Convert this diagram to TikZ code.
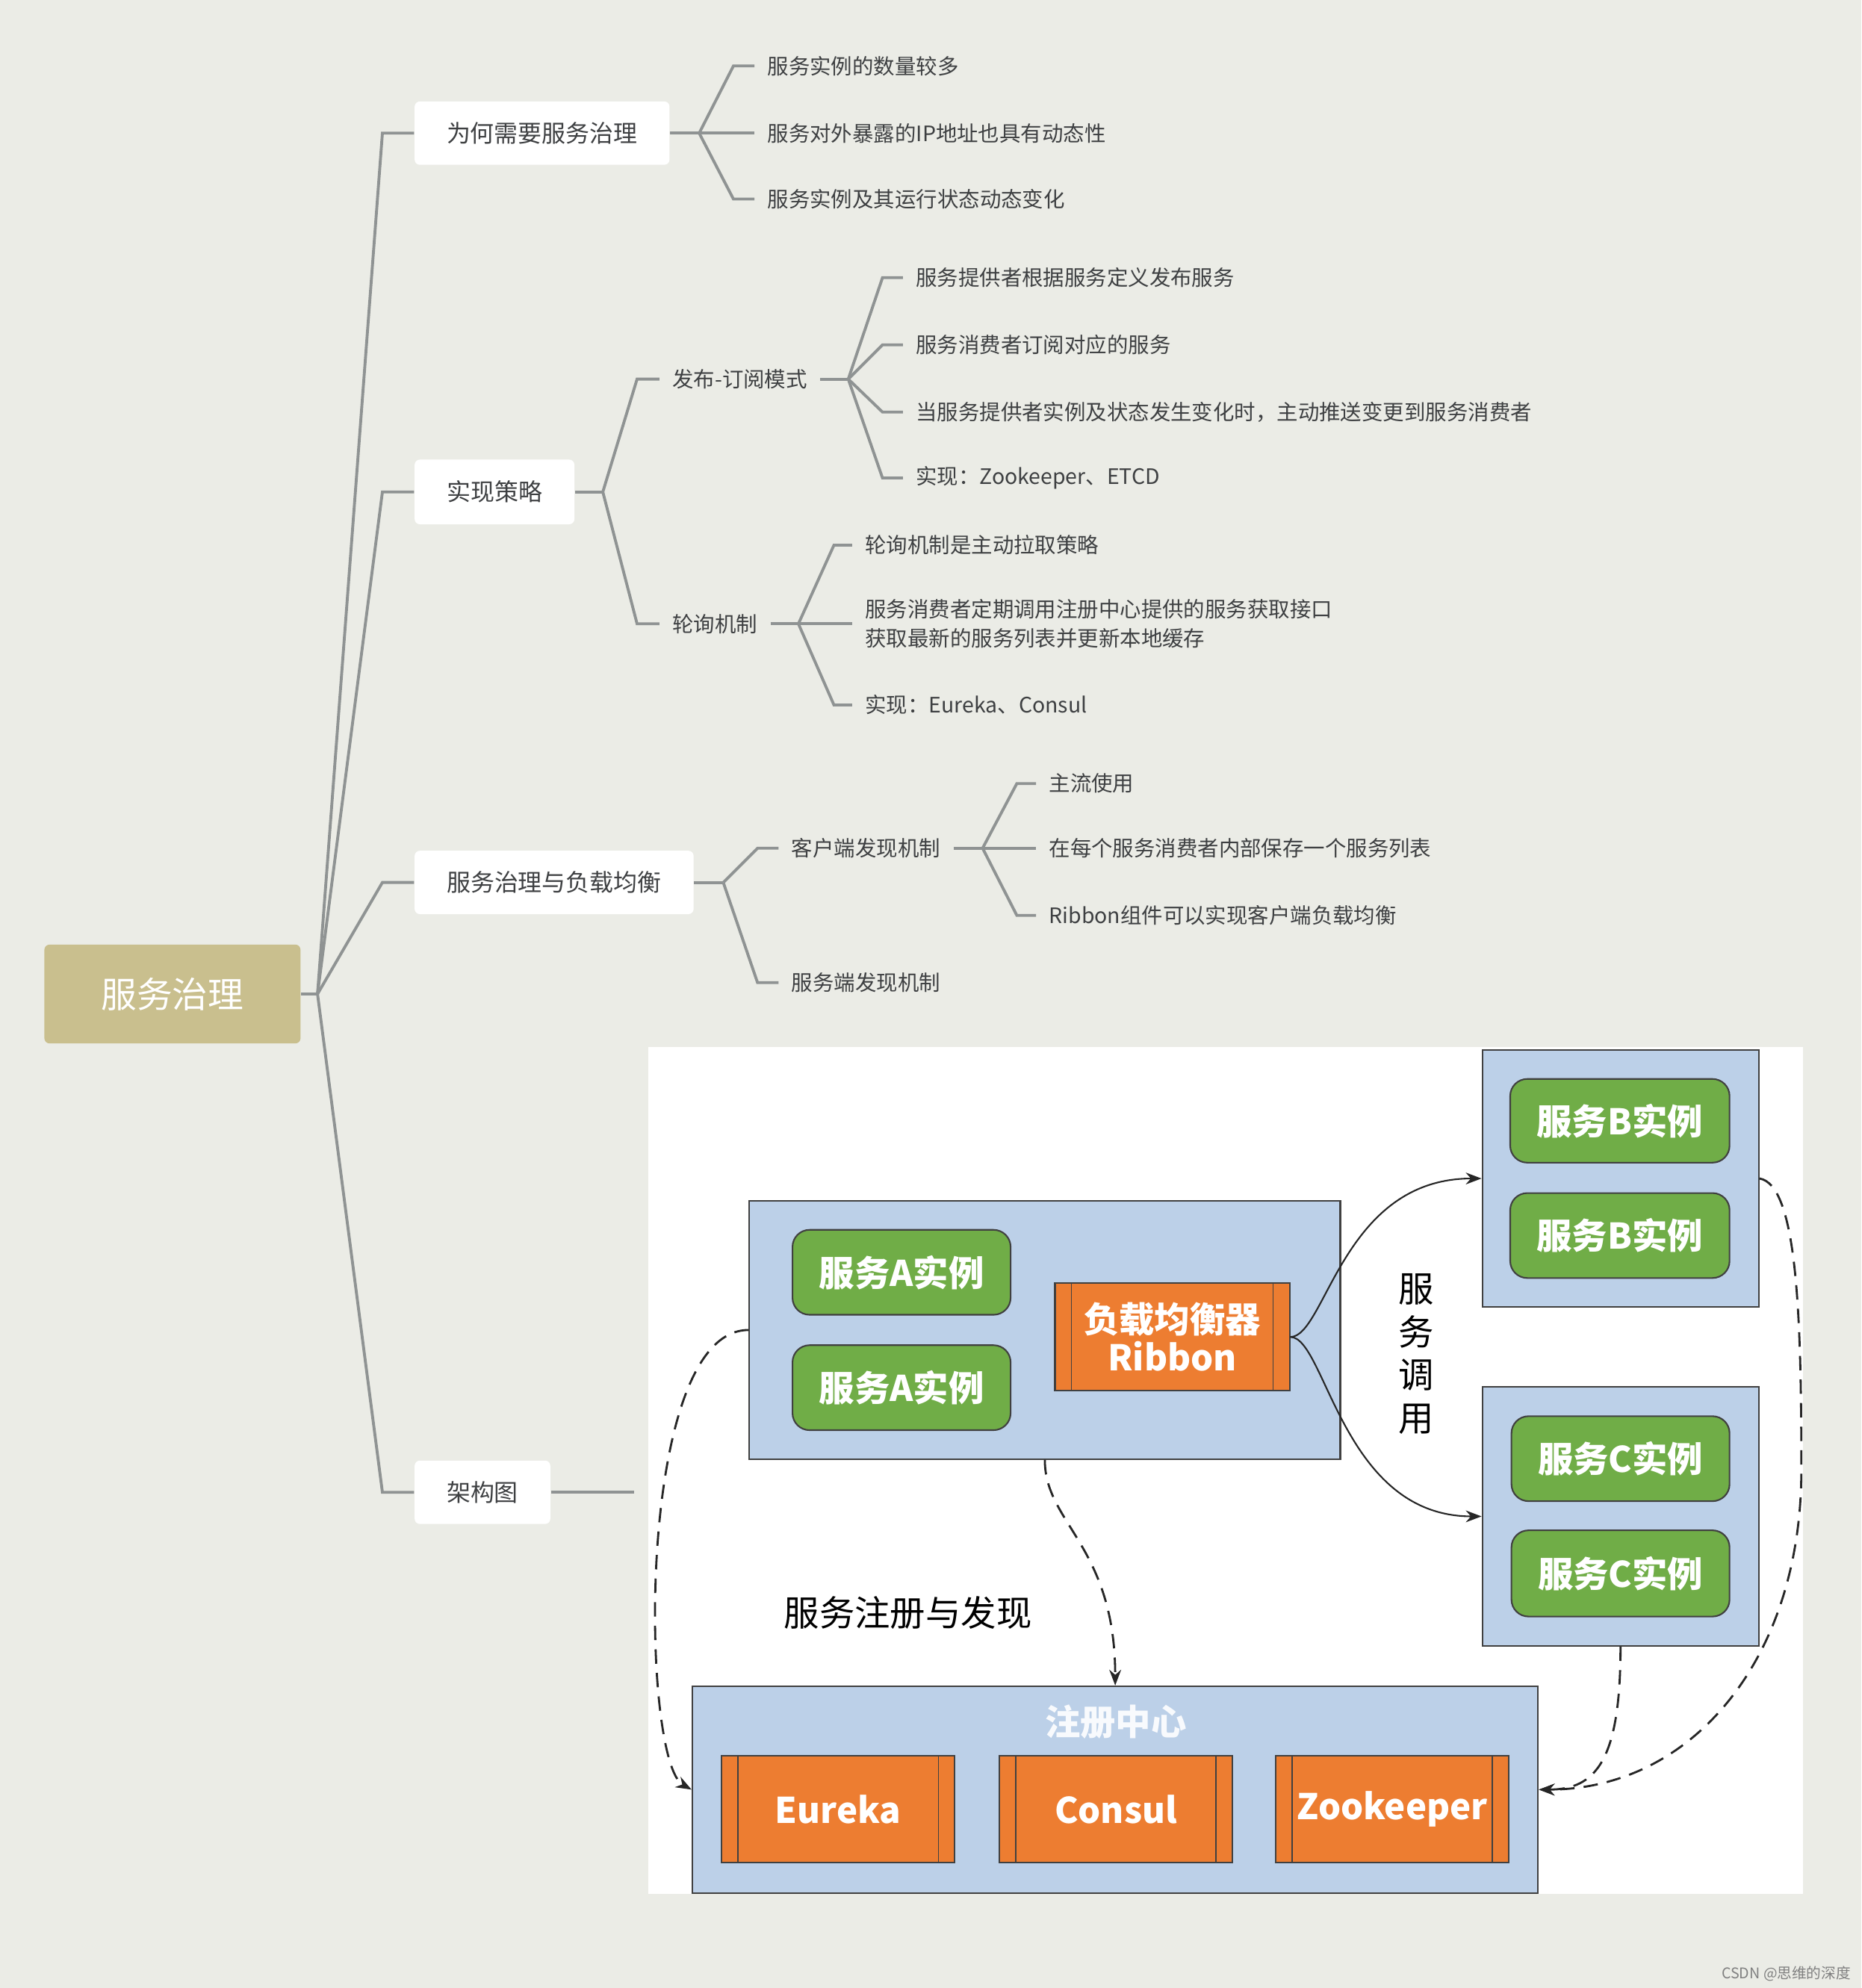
\documentclass[tikz,border=0pt]{standalone}
\usepackage{fontspec}
\setmainfont{Noto Sans CJK SC}
\usetikzlibrary{calc,arrows.meta}

\newcommand{\upx}{0.017cm}
\definecolor{bgcol}{RGB}{235,236,230}
\definecolor{rootfill}{RGB}{201,191,142}
\definecolor{linegray}{RGB}{143,147,147}
\definecolor{txtgray}{RGB}{62,64,66}
\definecolor{paleblue}{RGB}{188,208,232}
\definecolor{instgreen}{RGB}{112,173,71}
\definecolor{procorange}{RGB}{237,125,49}
\definecolor{edgegray}{RGB}{64,64,64}

\tikzset{
  sz/.style 2 args={minimum width=#1*\upx, minimum height=#2*\upx},
  branch/.style={draw=linegray, line width=1.1pt},
  rootbox/.style={fill=rootfill, rounded corners=2pt, text=white,
    font=\fontsize{13.6}{16}\selectfont},
  topic/.style={fill=white, rounded corners=2pt, text=txtgray,
    font=\fontsize{9.1}{11}\selectfont},
  leaf/.style={anchor=west, inner xsep=4.8pt, inner ysep=1pt, text=txtgray,
    align=left, font=\fontsize{8.1}{11.1}\selectfont},
  group/.style={fill=paleblue, draw=edgegray, line width=0.6pt},
  inst/.style={fill=instgreen, draw=edgegray, line width=0.6pt, rounded corners=6.5pt,
    text=white, font=\bfseries\fontsize{13.5}{16}\selectfont},
  procbox/.style={fill=procorange, draw=edgegray, line width=0.6pt, text=white,
    align=center, font=\bfseries\fontsize{13.5}{16}\selectfont,
    path picture={
      \draw[edgegray, line width=0.5pt]
        ([xshift=0.22cm]path picture bounding box.north west) -- ([xshift=0.22cm]path picture bounding box.south west)
        ([xshift=-0.22cm]path picture bounding box.north east) -- ([xshift=-0.22cm]path picture bounding box.south east);}},
  callline/.style={draw=black!85, line width=0.6pt, -{Stealth[length=6pt,width=4.5pt]}},
  regline/.style={callline, dash pattern=on 5.5pt off 3.5pt, line width=0.8pt}
}

\begin{document}
\begin{tikzpicture}[x=0.017cm, y=-0.017cm]
  % 1. 背景
  \fill[bgcol] (0,0) rectangle (1468,1568);
  \useasboundingbox (0,0) rectangle (1468,1568);

  % 2. 中心主题与一级分支
  \node[rootbox, sz={202}{78}] (root) at (136,784) {服务治理};
  \node[topic, sz={201}{50}] (why) at (427.5,105) {为何需要服务治理};
  \node[topic, sz={126}{51}] (impl) at (390,388) {实现策略};
  \node[topic, sz={220}{50}] (lb) at (437,696) {服务治理与负载均衡};
  \node[topic, sz={107}{50}] (arch) at (380.5,1177) {架构图};

  \coordinate (r0) at ($(root.east)+(13,0)$);
  \draw[branch] (root.east) -- (r0);
  \foreach \t in {why,impl,lb,arch}
    \draw[branch] (r0) -- ($(\t.west)+(-25,0)$) -- (\t.west);

  % 3. 为何需要服务治理
  \node[leaf] (w1) at (595,52) {服务实例的数量较多};
  \node[leaf] (w2) at (595,105) {服务对外暴露的IP地址也具有动态性};
  \node[leaf] (w3) at (595,157) {服务实例及其运行状态动态变化};
  \coordinate (f1) at ($(why.east)+(23,0)$);
  \draw[branch] (why.east) -- (f1);
  \foreach \t in {w1,w2,w3}
    \draw[branch] (f1) -- ($(f1 |- \t.west)+(27,0)$) -- (\t.west);

  % 4. 实现策略
  \node[leaf] (pub) at (520,299) {发布-订阅模式};
  \node[leaf] (poll) at (520,492) {轮询机制};
  \coordinate (f2) at ($(impl.east)+(22,0)$);
  \draw[branch] (impl.east) -- (f2);
  \foreach \t in {pub,poll}
    \draw[branch] (f2) -- ($(f2 |- \t.west)+(27,0)$) -- (\t.west);

  \node[leaf] (p1) at (712,219) {服务提供者根据服务定义发布服务};
  \node[leaf] (p2) at (712,272) {服务消费者订阅对应的服务};
  \node[leaf] (p3) at (712,325) {当服务提供者实例及状态发生变化时，主动推送变更到服务消费者};
  \node[leaf] (p4) at (712,377) {实现：Zookeeper、ETCD};
  \coordinate (f3) at ($(pub.east)+(22,0)$);
  \draw[branch] (pub.east) -- (f3);
  \foreach \t in {p1,p2,p3,p4}
    \draw[branch] (f3) -- ($(f3 |- \t.west)+(27,0)$) -- (\t.west);

  \node[leaf] (q1) at (672,430) {轮询机制是主动拉取策略};
  \node[leaf] (q2) at (672,492) {服务消费者定期调用注册中心提供的服务获取接口\\获取最新的服务列表并更新本地缓存};
  \node[leaf] (q3) at (672,556) {实现：Eureka、Consul};
  \coordinate (f4) at ($(poll.east)+(22,0)$);
  \draw[branch] (poll.east) -- (f4);
  \foreach \t in {q1,q2,q3}
    \draw[branch] (f4) -- ($(f4 |- \t.west)+(28,0)$) -- (\t.west);

  % 5. 服务治理与负载均衡
  \node[leaf] (client) at (614,669) {客户端发现机制};
  \node[leaf] (server) at (614,775) {服务端发现机制};
  \coordinate (f5) at ($(lb.east)+(23,0)$);
  \draw[branch] (lb.east) -- (f5);
  \foreach \t in {client,server}
    \draw[branch] (f5) -- ($(f5 |- \t.west)+(27,0)$) -- (\t.west);

  \node[leaf] (c1) at (817,618) {主流使用};
  \node[leaf] (c2) at (817,669) {在每个服务消费者内部保存一个服务列表};
  \node[leaf] (c3) at (817,722) {Ribbon组件可以实现客户端负载均衡};
  \coordinate (f6) at ($(client.east)+(23,0)$);
  \draw[branch] (client.east) -- (f6);
  \foreach \t in {c1,c2,c3}
    \draw[branch] (f6) -- ($(f6 |- \t.west)+(27,0)$) -- (\t.west);

  % 6. 架构图
  \coordinate (pic) at (500,1177);
  \draw[branch] (arch.east) -- (pic);
  \fill[white] (511,826) rectangle (1422,1494);

  \node[group, sz={466}{204}] (grpA) at (824,1049) {};
  \node[group, sz={218}{203}] (grpB) at (1278,929.5) {};
  \node[group, sz={218}{204}] (grpC) at (1278,1196) {};
  \node[group, sz={667}{163}] (reg) at (879.5,1411.5) {};

  \node[inst, sz={172}{67}] (a1) at (711,1003.5) {服务A实例};
  \node[inst, sz={172}{67}] (a2) at (711,1094.5) {服务A实例};
  \node[procbox, sz={185}{85}] (rb) at (924.5,1054.5) {负载均衡器\\[-1.5pt]Ribbon};
  \node[inst, sz={173}{66}] (b1) at (1277.5,884) {服务B实例};
  \node[inst, sz={173}{67}] (b2) at (1277.5,974.5) {服务B实例};
  \node[inst, sz={172}{67}] (cc1) at (1278,1150.5) {服务C实例};
  \node[inst, sz={172}{68}] (cc2) at (1278,1241) {服务C实例};

  \node[text=white!90!paleblue, font=\bfseries\fontsize{13.5}{16}\selectfont] (regtitle) at (880,1358) {注册中心};
  \node[procbox, sz={184}{84}] (eureka) at (661,1427) {Eureka};
  \node[procbox, sz={184}{84}] (consul) at (880,1427) {Consul};
  \node[procbox, sz={184}{84}] (zk) at (1098,1427) {Zookeeper};

  \node[align=center, font=\fontsize{13.5}{16.4}\selectfont] (call) at (1117,1068) {服\\务\\调\\用};
  \node[font=\fontsize{13.5}{16}\selectfont] (regdisc) at (716,1272) {服务注册与发现};

  % 服务调用
  \draw[callline] (rb.east) .. controls +(28,0) and +(-110,0) .. (grpB.west);
  \draw[callline] (rb.east) .. controls +(28,0) and +(-110,0) .. (grpC.west);

  % 注册与发现
  \draw[regline] (grpA.south) .. controls +(0,50) and +(0,-110) .. (reg.north);
  \draw[regline] (grpA.west) .. controls +(-90,0) and +(-40,-22) .. (reg.west);
  \draw[regline] (grpC.south) .. controls +(0,90) and +(45,0) .. (reg.east);
  \draw[regline] (grpB.east) .. controls +(30,5) and +(0,-120) .. ++(33,230)
    .. controls +(0,150) and +(120,0) .. (reg.east);

  % 7. 水印
  \node[anchor=east, inner sep=0pt, text=gray, font=\fontsize{5.6}{7}\selectfont] (mark) at (1460,1557) {CSDN @思维的深度};
\end{tikzpicture}
\end{document}
